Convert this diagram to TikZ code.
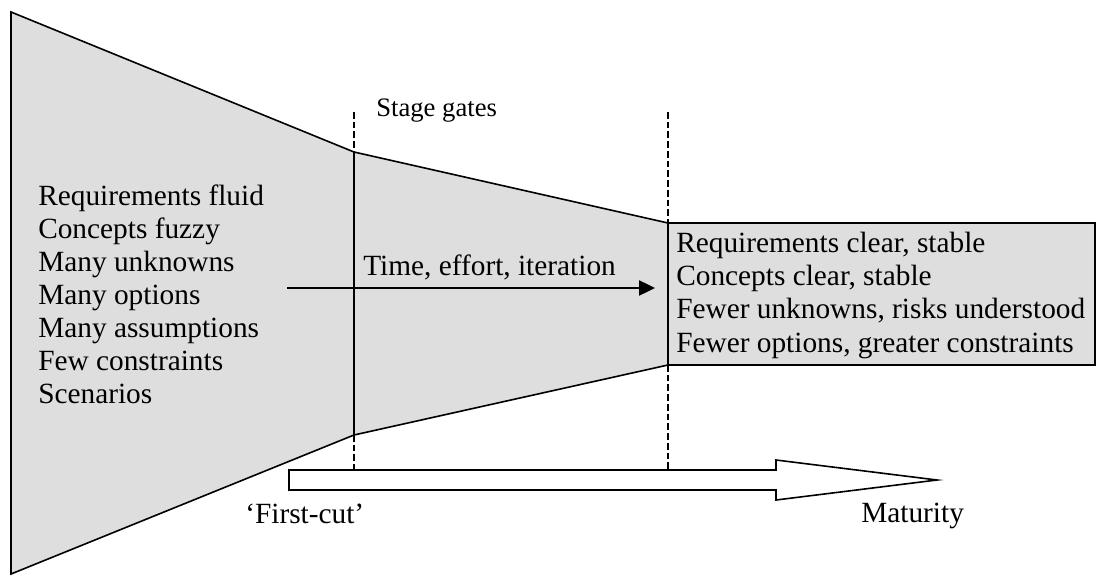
\documentclass[tikz,border=0pt]{standalone}
\usepackage{fontspec}
\setmainfont{Liberation Serif}
\usetikzlibrary{arrows.meta}
\definecolor{funnelgray}{RGB}{222,222,222}
\tikzset{
  outline/.style={draw=black, line width=1.2pt, line join=miter},
  gate/.style={draw=black, line width=1.1pt, dash pattern=on 5pt off 2.3pt},
  txt/.style={anchor=base west, inner sep=0pt, font=\fontsize{22}{26}\selectfont},
  smalltxt/.style={anchor=base west, inner sep=0pt, font=\fontsize{20}{24}\selectfont},
}
\begin{document}
\begin{tikzpicture}[x=0.75pt, y=-0.75pt]
\useasboundingbox (0,0) rectangle (1096,575);
% funnel outline
\coordinate (A) at (11,12);
\coordinate (B) at (354,152);
\coordinate (C) at (668,223);
\coordinate (D) at (1095,223);
\coordinate (E) at (1095,365);
\coordinate (F) at (668,365);
\coordinate (G) at (354,435);
\coordinate (H) at (11,574);
\path[outline, fill=funnelgray] (A) -- (B) -- (C) -- (D) -- (E) -- (F) -- (G) -- (H) -- cycle;
% solid gate lines
\draw[outline] (B) -- (G);
\draw[outline] (C) -- (F);
% dashed gate extensions
\coordinate (g1t) at (354,112);
\coordinate (g1b) at (354,470);
\coordinate (g2t) at (668,112);
\coordinate (g2b) at (668,470);
\draw[gate] (g1t) -- (B);
\draw[gate] (G) -- (g1b);
\draw[gate] (g2t) -- (C);
\draw[gate] (F) -- (g2b);
% time arrow
\coordinate (ts) at (287,288);
\coordinate (te) at (655,288);
\draw[line width=0.9pt, -{Triangle[length=12pt,width=11.5pt]}] (ts) -- (te);
% hollow maturity arrow
\draw[outline, fill=white] (289,470) -- (776,470) -- (776,460) -- (937,480) -- (776,500) -- (776,490) -- (289,490) -- cycle;
% left list
\foreach \t [count=\i from 0] in {Requirements fluid, Concepts fuzzy, Many unknowns, Many options, Many assumptions, Few constraints, Scenarios}
  \node[txt] (left\i) at (38,205+33*\i) {\t};
% right list
\node[txt] (r0) at (676,252) {Requirements clear, stable};
\node[txt] (r1) at (676,285) {Concepts clear, stable};
\node[txt] (r2) at (676,318.5) {Fewer unknowns, risks understood};
\node[txt] (r3) at (676,352) {Fewer options, greater constraints};
% labels
\node[txt] (time) at (363,275) {Time, effort, iteration};
\node[smalltxt] (stage) at (376,116) {Stage gates};
\node[txt] (first) at (245,523) {‘First-cut’};
\node[txt] (mat) at (861,522) {Maturity};
\end{tikzpicture}
\end{document}
